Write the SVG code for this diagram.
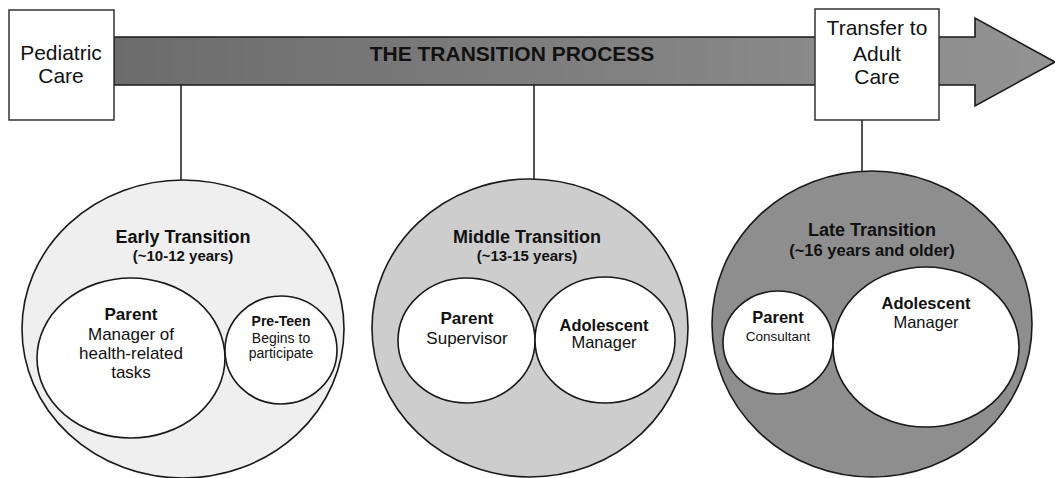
<svg xmlns="http://www.w3.org/2000/svg" width="1055" height="478" viewBox="0 0 1055 478">
  <style>
    text { font-family: "Liberation Sans", Arial, sans-serif; fill: #111; text-anchor: middle; }
    .b { font-weight: bold; }
    .edge { stroke: #1a1a1a; stroke-width: 1.5; fill: none; }
    .shape { stroke: #1a1a1a; stroke-width: 1.6; }
    .box { fill: #fff; stroke: #333; stroke-width: 1.5; }
    .inner { fill: #fff; stroke: #1a1a1a; stroke-width: 1.6; }
  </style>
  <defs>
    <linearGradient id="barFill" x1="0" y1="0" x2="1" y2="0">
      <stop offset="0" stop-color="#6c6c6c"/>
      <stop offset="1" stop-color="#939393"/>
    </linearGradient>
  </defs>

  <!-- process arrow -->
  <g id="process-arrow">
    <path class="shape" fill="url(#barFill)" d="M114,37 H975 V18 L1055,62 L975,106 V85 H114 Z"/>
    <text class="b" x="512" y="61" font-size="21">THE TRANSITION PROCESS</text>
  </g>

  <!-- connectors from the arrow to each stage -->
  <g id="connectors">
    <line class="edge" x1="181" y1="85" x2="181" y2="180"/>
    <line class="edge" x1="534" y1="85" x2="534" y2="179"/>
    <line class="edge" x1="862" y1="120" x2="862" y2="171"/>
  </g>

  <g id="pediatric-care">
    <rect class="box" x="9" y="10" width="105" height="110"/>
    <text x="61" y="60" font-size="21">Pediatric</text>
    <text x="61" y="83" font-size="21">Care</text>
  </g>

  <g id="adult-care">
    <rect class="box" x="815" y="9" width="124" height="111"/>
    <text x="877" y="35" font-size="21">Transfer to</text>
    <text x="877" y="61" font-size="21">Adult</text>
    <text x="877" y="84" font-size="21">Care</text>
  </g>

  <g id="early-transition">
    <ellipse class="shape" fill="#efefef" cx="183" cy="329" rx="161" ry="149"/>
    <text class="b" x="183" y="243" font-size="18">Early Transition</text>
    <text class="b" x="183" y="261" font-size="15">(~10-12 years)</text>
    <ellipse class="inner" cx="131" cy="358" rx="94" ry="80"/>
    <text class="b" x="131" y="320" font-size="17">Parent</text>
    <text x="131" y="340" font-size="17">Manager of</text>
    <text x="131" y="359" font-size="17">health-related</text>
    <text x="131" y="378" font-size="17">tasks</text>
    <ellipse class="inner" cx="281" cy="350" rx="56" ry="54"/>
    <text class="b" x="281" y="326" font-size="14">Pre-Teen</text>
    <text x="281" y="343" font-size="14">Begins to</text>
    <text x="281" y="358" font-size="14">participate</text>
  </g>

  <g id="middle-transition">
    <ellipse class="shape" fill="#cdcdcd" cx="530" cy="328" rx="158" ry="149"/>
    <text class="b" x="527" y="243" font-size="18">Middle Transition</text>
    <text class="b" x="527" y="261" font-size="15">(~13-15 years)</text>
    <ellipse class="inner" cx="466.5" cy="340.5" rx="68.5" ry="62.5"/>
    <text class="b" x="467" y="324" font-size="17">Parent</text>
    <text x="467" y="344" font-size="17">Supervisor</text>
    <ellipse class="inner" cx="605" cy="340" rx="70" ry="63"/>
    <text class="b" x="604" y="331" font-size="16.5">Adolescent</text>
    <text x="604" y="348" font-size="16.5">Manager</text>
  </g>

  <g id="late-transition">
    <ellipse class="shape" fill="#8e8e8e" cx="872" cy="324" rx="160" ry="153"/>
    <text class="b" x="872" y="236" font-size="18">Late Transition</text>
    <text class="b" x="872" y="256" font-size="16.5">(~16 years and older)</text>
    <ellipse class="inner" cx="778" cy="342.5" rx="55" ry="51.5"/>
    <text class="b" x="778" y="323" font-size="16.5">Parent</text>
    <text x="778" y="341" font-size="13.5">Consultant</text>
    <ellipse class="inner" cx="926" cy="347" rx="93" ry="80"/>
    <text class="b" x="926" y="309" font-size="16.5">Adolescent</text>
    <text x="926" y="328" font-size="16.5">Manager</text>
  </g>
</svg>
